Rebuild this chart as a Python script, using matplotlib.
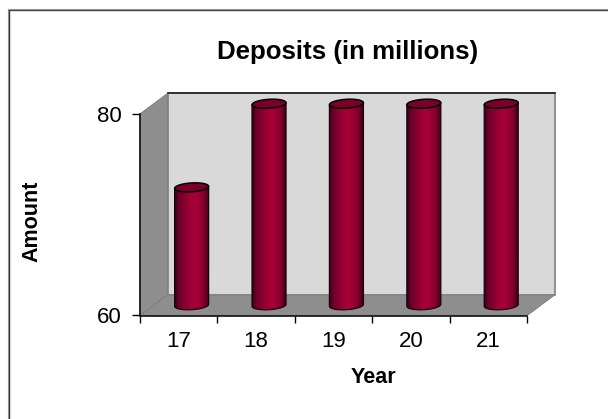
import numpy as np
import matplotlib
matplotlib.use("Agg")
import matplotlib.pyplot as plt
from matplotlib.patches import Polygon, PathPatch
from matplotlib.path import Path
from matplotlib.colors import LinearSegmentedColormap

plt.rcParams['font.family'] = ['Liberation Sans', 'DejaVu Sans']

years = ["17", "18", "19", "20", "21"]
deposits = [71.7, 80, 80, 80, 80]

W, H = 608, 419
fig = plt.figure(figsize=(W / 100, H / 100), dpi=100, facecolor="white")

# outer border, only top and left show and both run off the image
fig.add_artist(plt.Line2D([8 / W, 8 / W], [0, 1 - 9 / H], color="#aaaaaa", lw=0.8))
fig.add_artist(plt.Line2D([9.2 / W, 9.2 / W], [0, 1 - 10 / H], color="#333333", lw=1.0))
fig.add_artist(plt.Line2D([8 / W, 1], [1 - 9 / H, 1 - 9 / H], color="#aaaaaa", lw=0.8))
fig.add_artist(plt.Line2D([8.7 / W, 1], [1 - 10.2 / H, 1 - 10.2 / H], color="#444444", lw=1.0))

# axes sits on the front plane of the fake 3d box
ax = fig.add_axes([140 / W, 1 - 315.5 / H, 387 / W, 201.5 / H])
ax.set_xlim(0, 5)
ax.set_ylim(60, 80)
ax.patch.set_visible(False)

# depth of the box in data units
dx = 27.5 / 387 * 5
dy = 20.5 / 201.5 * 20

# back wall, side wall, floor
ax.add_patch(Polygon([(dx, 60 + dy), (5 + dx, 60 + dy), (5 + dx, 80 + dy), (dx, 80 + dy)],
                     fc="#d9d9d9", ec="#808080", lw=1.2, clip_on=False, zorder=1))
ax.add_patch(Polygon([(0, 60), (dx, 60 + dy), (dx, 80 + dy), (0, 80)],
                     fc="#8e8e8e", ec="#808080", lw=0.8, clip_on=False, zorder=1))
ax.add_patch(Polygon([(0, 60), (5, 60), (5 + dx, 60 + dy), (dx, 60 + dy)],
                     fc="#8e8e8e", ec="#808080", lw=0.8, clip_on=False, zorder=1))
ax.plot([dx, 5 + dx], [80 + dy, 80 + dy], color="#222222", lw=1.2, clip_on=False, zorder=2)

# cylinders
cmap = LinearSegmentedColormap.from_list(
    "cyl", [(0, "#3a0018"), (0.12, "#6e002a"), (0.45, "#a00035"), (0.6, "#a80038"),
            (0.85, "#86002c"), (1, "#40001a")])
grad = np.linspace(0, 1, 64).reshape(1, -1)
bar_w = 34 / 387 * 5
ell_h = 0.88
slope = 2.0 / 34 * (20 / 201.5) / (1 / 387 * 5)  # ellipses lean up to the right

t = np.linspace(0, 2 * np.pi, 80)
for i, v in enumerate(deposits):
    cx = i + 0.5 + dx * 0.47
    x0, x1 = cx - bar_w / 2, cx + bar_w / 2
    base = 60 + dy / 2
    top = v + dy / 2
    ex = np.cos(t) * bar_w / 2
    ey = np.sin(t) * ell_h / 2 + slope * ex
    half = t[:40]
    low_x = cx - np.cos(half) * bar_w / 2
    low_y = base - np.sin(half) * ell_h / 2 + slope * (low_x - cx)
    verts = list(zip(low_x, low_y)) + [(x1, top + slope * bar_w / 2), (x0, top - slope * bar_w / 2)]
    verts.append(verts[0])
    body = PathPatch(Path(verts), transform=ax.transData, fc="none", ec="#1a0008", lw=0.9,
                     zorder=4, clip_on=False)
    ax.add_patch(body)
    im = ax.imshow(grad, extent=[x0, x1, base - 2, top + 2], aspect="auto", cmap=cmap, zorder=3)
    im.set_clip_box(fig.bbox)
    im.set_clip_path(body)
    ax.add_patch(Polygon(np.column_stack([cx + ex, top + ey]), fc="#7a002a", ec="black", lw=1.1,
                         zorder=5, clip_on=False))

ax.set_xlim(0, 5)
ax.set_ylim(60, 80)

for s in ["top", "right"]:
    ax.spines[s].set_visible(False)
for s in ["left", "bottom"]:
    ax.spines[s].set_linewidth(1.2)
    ax.spines[s].set_color("#111111")
    ax.spines[s].set_zorder(2)

ax.set_yticks([60, 80])
ax.set_xticks(np.arange(0, 6))
ax.set_xticklabels([])
ax.set_xticks(np.arange(len(years)) + 0.5, minor=True)
ax.set_xticklabels(years, minor=True, fontsize=16)
ax.tick_params(axis="x", which="minor", length=0, pad=11.5)
ax.tick_params(axis="x", which="major", length=5, width=1, direction="out")
ax.tick_params(axis="y", length=6, width=1, labelsize=16, pad=7)

fig.text(348 / W, 1 - 51.5 / H, "Deposits (in millions)", ha="center", va="center", fontsize=18.6, fontweight="bold")
fig.text(32 / W, 1 - 221 / H, "Amount", ha="center", va="center", rotation=90, fontsize=15.5, fontweight="bold")
fig.text(373 / W, 1 - 377 / H, "Year", ha="center", va="center", fontsize=15.5, fontweight="bold")

fig.savefig("out.png", dpi=100)
